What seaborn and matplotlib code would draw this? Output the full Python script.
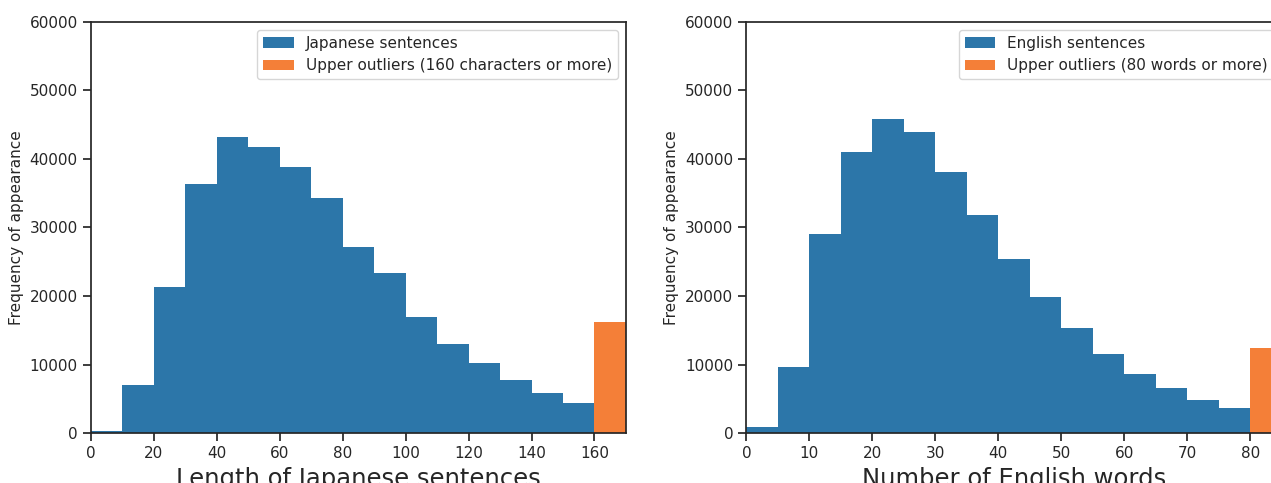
import numpy as np
import matplotlib
matplotlib.use("Agg")
import matplotlib.pyplot as plt
import seaborn as sns

# bin starts and counts
jp_bins = [0, 10, 20, 30, 40, 50, 60, 70, 80, 90, 100, 110, 120, 130, 140, 150]
jp_counts = [340, 7050, 21340, 36360, 43220, 41760, 38840, 34320,
             27080, 23430, 16970, 13030, 10260, 7680, 5880, 4420]
jp_outlier_bin = [160]
jp_outlier_count = [16240]

en_bins = [0, 5, 10, 15, 20, 25, 30, 35, 40, 45, 50, 55, 60, 65, 70, 75]
en_counts = [920, 9670, 29020, 41030, 45840, 43900, 38070, 31840,
             25430, 19880, 15360, 11520, 8650, 6510, 4860, 3600]
en_outlier_bin = [80]
en_outlier_count = [12450]

blue = "#2c76a9"
orange = "#f47f38"

sns.set_theme(style="ticks", context="notebook")

fig = plt.figure(figsize=(12.71, 4.83), dpi=100)
ax1 = fig.add_axes([0.0716, 0.1035, 0.4209, 0.851])
ax2 = fig.add_axes([0.5872, 0.1035, 0.4213, 0.851])

# left: Japanese sentence length
sns.histplot(x=jp_bins, weights=jp_counts, binwidth=10, binrange=(0, 160),
             color=blue, alpha=1, linewidth=0, label="Japanese sentences", ax=ax1)
sns.histplot(x=jp_outlier_bin, weights=jp_outlier_count, binwidth=10, binrange=(160, 170),
             color=orange, alpha=1, linewidth=0,
             label="Upper outliers (160 characters or more)", ax=ax1)
ax1.set_xlim(0, 170)
ax1.set_ylim(0, 60000)
ax1.set_xticks(np.arange(0, 161, 20))
ax1.set_xlabel("Length of Japanese sentences", fontsize=17.5)
ax1.set_ylabel("Frequency of appearance", fontsize=11)
ax1.legend(loc="upper right", fontsize=11)

# right: English word count
sns.histplot(x=en_bins, weights=en_counts, binwidth=5, binrange=(0, 80),
             color=blue, alpha=1, linewidth=0, label="English sentences", ax=ax2)
sns.histplot(x=en_outlier_bin, weights=en_outlier_count, binwidth=5, binrange=(80, 85),
             color=orange, alpha=1, linewidth=0,
             label="Upper outliers (80 words or more)", ax=ax2)
ax2.set_xlim(0, 85)
ax2.set_ylim(0, 60000)
ax2.set_xticks(np.arange(0, 81, 10))
ax2.set_xlabel("Number of English words", fontsize=17.5)
ax2.set_ylabel("Frequency of appearance", fontsize=11)
ax2.legend(loc="upper right", fontsize=11)

fig.savefig("out.png", dpi=100)
